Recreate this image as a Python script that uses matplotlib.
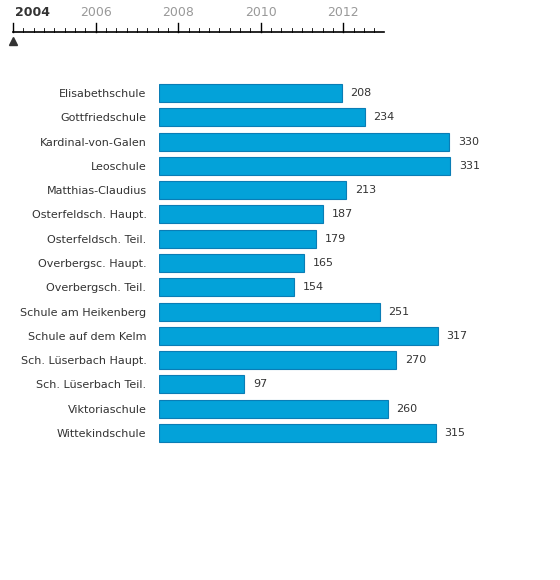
import numpy as np
import matplotlib
matplotlib.use('Agg')
from matplotlib import pyplot as plt

schools = ['Elisabethschule', 'Gottfriedschule', 'Kardinal-von-Galen', 'Leoschule',
           'Matthias-Claudius', 'Osterfeldsch. Haupt.', 'Osterfeldsch. Teil.',
           'Overbergsc. Haupt.', 'Overbergsch. Teil.', 'Schule am Heikenberg',
           'Schule auf dem Kelm', 'Sch. Lüserbach Haupt.', 'Sch. Lüserbach Teil.',
           'Viktoriaschule', 'Wittekindschule']
values = [208, 234, 330, 331, 213, 187, 179, 165, 154, 251, 317, 270, 97, 260, 315]
years = [2004, 2006, 2008, 2010, 2012]
current_year = 2004

W, H = 560, 580
fig = plt.figure(figsize=(W / 100, H / 100), dpi=100)

# bar chart
ax = fig.add_axes([159 / W, 1 - 445.2 / H, 400 / W, (445.2 - 80.8) / H])
y = np.arange(len(schools))
ax.barh(y, values, height=0.74, color='#03a2d9', edgecolor='#0a7db5', linewidth=0.8)
for yi, v in zip(y, values):
    ax.text(v + 10, yi, str(v), va='center', ha='left', fontsize=8, color='#333333')
ax.set_xlim(0, 400 / 0.879)
ax.set_ylim(len(schools) - 0.5, -0.5)
ax.set_yticks(y)
ax.set_yticklabels(schools, fontsize=8, color='#333333')
ax.tick_params(axis='y', length=0, pad=9)
ax.set_xticks([])
for s in ax.spines.values():
    s.set_visible(False)

# timeline
end = 2004 + (384 - 13) / 41.3
tx = fig.add_axes([13 / W, 1 - 46 / H, (384 - 13) / W, 46 / H])
tx.set_xlim(2004, end)
tx.set_ylim(0, 46)
tx.axis('off')
tx.plot([2004, end], [14, 14], color='black', lw=1.2, clip_on=False)
for q in np.arange(2004, 2013, 0.25):
    major = abs(q - round(q)) < 1e-6 and int(round(q)) % 2 == 0
    tx.plot([q, q], [14, 23 if major else 18], color='black', lw=1 if major else 0.6,
            clip_on=False)
for yr in years:
    if yr == current_year:
        tx.text(yr + 0.05, 34, str(yr), ha='left', va='center', fontsize=9,
                fontweight='bold', color='#333333')
    else:
        tx.text(yr, 34, str(yr), ha='center', va='center', fontsize=9, color='#999999')
tx.plot([current_year], [5], marker='^', color='#333333', markersize=6, clip_on=False)

fig.savefig('out.png', dpi=100)
